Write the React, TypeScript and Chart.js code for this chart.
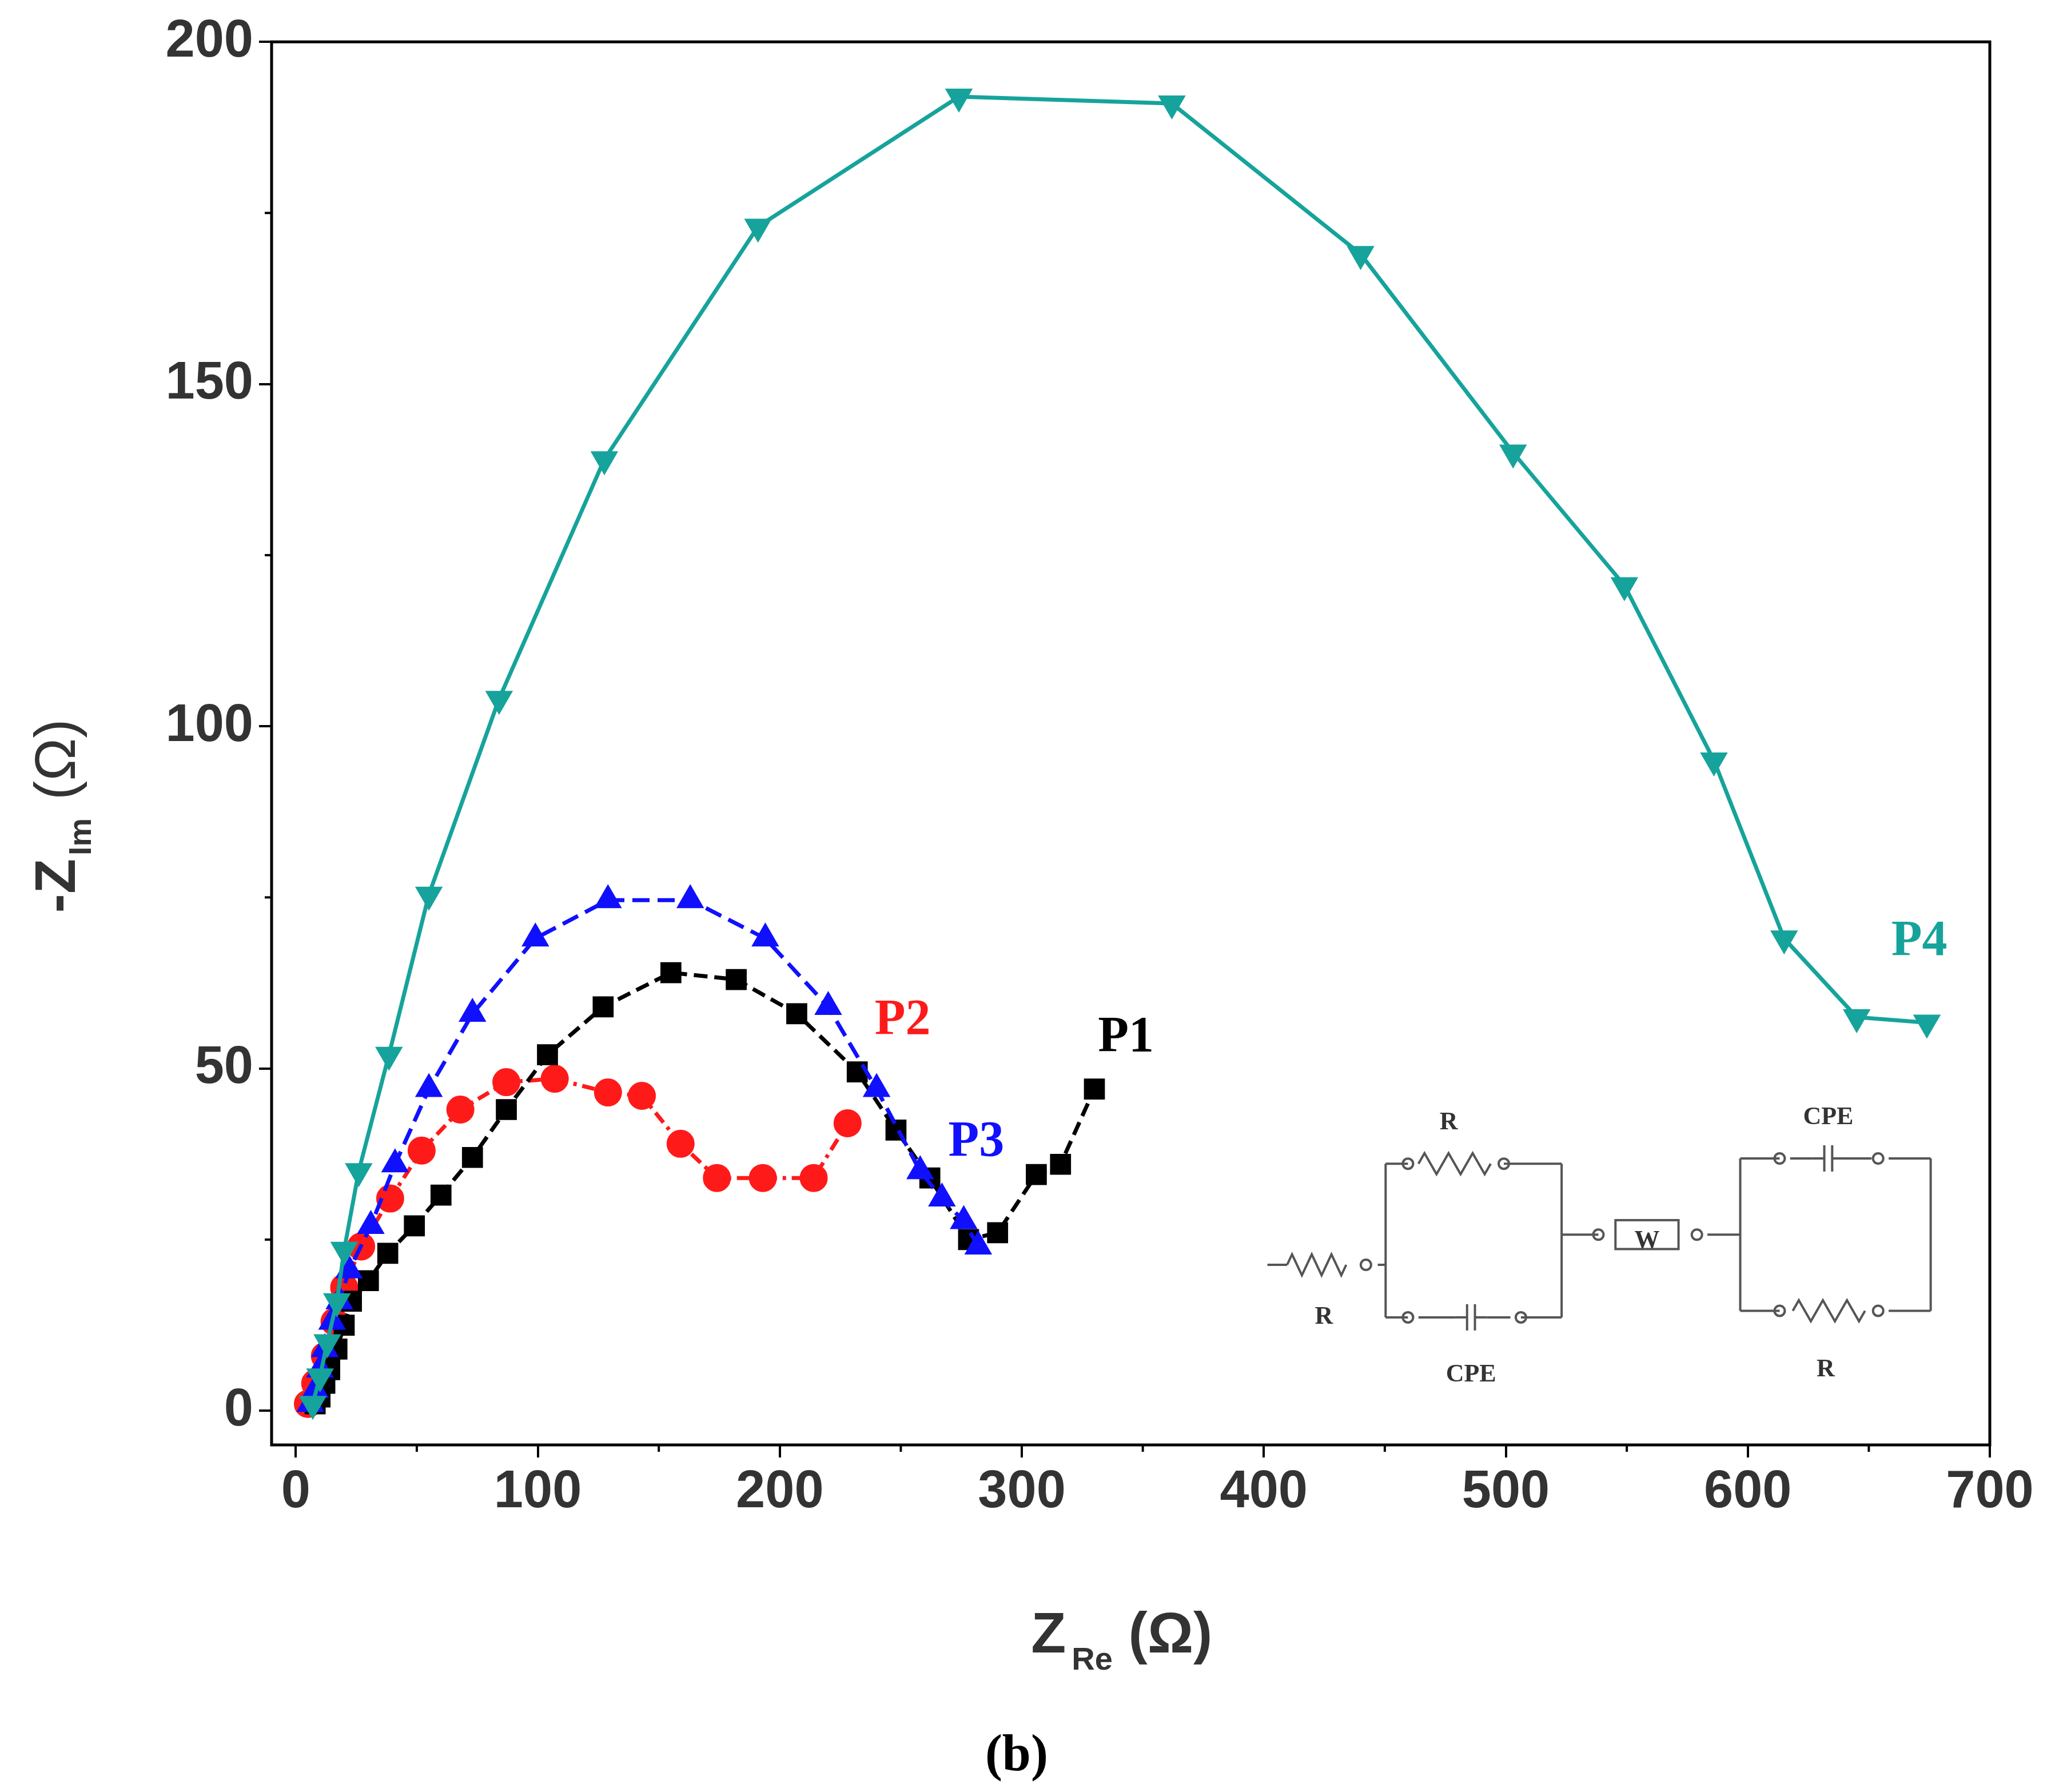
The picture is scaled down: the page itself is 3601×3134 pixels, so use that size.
import React, { useEffect, useRef } from "react";
import { Chart, registerables } from "chart.js";
Chart.register(...registerables);

const p1x = [8,10,12,14,17,20,23,30,38,49,60,73,87,104,127,155,182,207,232,248,262,278,290,306,316,330];
const p1y = [1,2,4,6,9,12.5,16,19,23,27,31.5,37,44,52,59,64,63,58,49.5,41,34,25,26,34.5,36,47];
const p2x = [5,8,12,16,20,27,39,52,68,87,107,129,143,159,174,193,214,228];
const p2y = [1,4,8,13,18,24,31,38,44,48,48.5,46.5,46,39,34,34,34,42];
const p3x = [6,8,10,12,15,18,22,31,41,55,73,99,129,163,194,220,240,258,267,276,282];
const p3y = [1,3,6,9,13,16,20.5,27,36,47,58,69,74.6,74.6,69,59,47,35,31,27.7,24];
const p4x = [7,10,13,17,20,26,38.5,55,84,127.5,191,274,362,440,503,549,586,615,645,674];
const p4y = [1,5,10,16,23.5,35,52,75.4,104,139,173,192,191,169,140,120.6,95,69,57.5,56.7];
const xTicks = [0,100,200,300,400,500,600,700];
const yTicks = [0,50,100,150,200];

const pts = (xs: number[], ys: number[]) => xs.map((x, i) => ({ x, y: ys[i] }));
const S = 2.297;
const FONT = '"Liberation Sans", Arial, sans-serif';

export default function App() {
  const ref = useRef<HTMLCanvasElement>(null);
  useEffect(() => {
    const deco = {
      id: "deco",
      afterDraw(c: any) {
        const ctx = c.ctx;
        const a = c.chartArea;
        const xs = c.scales.x, ys = c.scales.y;
        ctx.save();
        ctx.strokeStyle = "#000";
        ctx.lineWidth = 5;
        ctx.strokeRect(a.left, a.top, a.right - a.left, a.bottom - a.top);
        ctx.lineWidth = 4;
        for (let v = 50; v < 700; v += 100) {
          const px = xs.getPixelForValue(v);
          ctx.beginPath(); ctx.moveTo(px, a.bottom); ctx.lineTo(px, a.bottom + 12); ctx.stroke();
        }
        for (let v = 25; v < 200; v += 50) {
          const py = ys.getPixelForValue(v);
          ctx.beginPath(); ctx.moveTo(a.left, py); ctx.lineTo(a.left - 12, py); ctx.stroke();
        }
        const P = (x: number) => x * S - 8;
        ctx.fillStyle = "#333";
        ctx.font = `bold 100px ${FONT}`;
        ctx.textBaseline = "alphabetic";
        let x0 = P(785), yb = P(1258);
        ctx.fillText("Z", x0, yb);
        let w = ctx.measureText("Z").width;
        ctx.font = `bold 56px ${FONT}`;
        ctx.fillText("Re", x0 + w + 10, yb + 30);
        let w2 = ctx.measureText("Re").width;
        ctx.font = `bold 100px ${FONT}`;
        ctx.fillText(" (Ω)", x0 + w + w2 + 10, yb);
        ctx.save();
        ctx.translate(P(57), P(695));
        ctx.rotate(-Math.PI / 2);
        ctx.fillText("-Z", 0, 0);
        w = ctx.measureText("-Z").width;
        ctx.font = `bold 56px ${FONT}`;
        ctx.fillText("Im", w + 6, 28);
        w2 = ctx.measureText("Im").width;
        ctx.font = `100px ${FONT}`;
        ctx.fillText(" (Ω)", w + w2 + 10, 0);
        ctx.restore();
        ctx.font = `bold 88px "Liberation Serif", serif`;
        const lab = (t: string, col: string, x: number, y: number) => { ctx.fillStyle = col; ctx.fillText(t, P(x), P(y)); };
        lab("P1", "#000", 836, 800);
        lab("P2", "#ff1a1a", 666, 787);
        lab("P3", "#1010ff", 722, 880);
        lab("P4", "#16a39b", 1440, 727);
        ctx.fillStyle = "#000";
        ctx.font = `bold 90px "Liberation Serif", serif`;
        ctx.textAlign = "center";
        ctx.fillText("(b)", P(774), P(1348));
        ctx.textAlign = "left";
        ctx.strokeStyle = "#555"; ctx.lineWidth = 4; ctx.fillStyle = "#444";
        const L = (pts: number[][]) => { ctx.beginPath(); ctx.moveTo(P(pts[0][0]), P(pts[0][1])); for (const p of pts.slice(1)) ctx.lineTo(P(p[0]), P(p[1])); ctx.stroke(); };
        const R = (x1: number, x2: number, y: number) => {
          const n = 6, d = (x2 - x1) / n; const arr = [[x1, y]];
          for (let i = 0; i < n; i++) arr.push([x1 + d * (i + 0.5), y + (i % 2 ? 8 : -8)]);
          arr.push([x2, y]); L(arr);
        };
        const dot = (x: number, y: number) => { ctx.beginPath(); ctx.arc(P(x), P(y), 9, 0, 7); ctx.stroke(); };
        const C = (x: number, y: number) => { L([[x - 12, y], [x - 3, y]]); L([[x - 3, y - 10], [x - 3, y + 10]]); L([[x + 3, y - 10], [x + 3, y + 10]]); L([[x + 3, y], [x + 12, y]]); };
        L([[965, 963], [980, 963]]); R(980, 1025, 963); dot(1040, 963); L([[1049, 963], [1055, 963]]);
        L([[1055, 886], [1055, 1003]]); L([[1055, 886], [1072, 886]]); dot(1072, 886); R(1080, 1135, 886); dot(1145, 886); L([[1145, 886], [1189, 886]]);
        L([[1055, 1003], [1072, 1003]]); dot(1072, 1003); L([[1080, 1003], [1108, 1003]]); C(1120, 1003); L([[1132, 1003], [1150, 1003]]); dot(1158, 1003); L([[1158, 1003], [1189, 1003]]);
        L([[1189, 886], [1189, 1003]]); L([[1189, 940], [1217, 940]]); dot(1217, 940); ctx.strokeRect(P(1230), P(929), 48 * S, 22 * S); dot(1292, 940); L([[1300, 940], [1325, 940]]);
        L([[1325, 882], [1325, 998]]); L([[1325, 882], [1355, 882]]); dot(1355, 882); L([[1363, 882], [1380, 882]]); C(1392, 882); L([[1404, 882], [1425, 882]]); dot(1430, 882); L([[1438, 882], [1470, 882]]);
        L([[1325, 998], [1355, 998]]); dot(1355, 998); R(1365, 1420, 998); dot(1430, 998); L([[1438, 998], [1470, 998]]); L([[1470, 882], [1470, 998]]);
        ctx.fillStyle = "#333"; ctx.font = `bold 44px "Liberation Serif", serif`; ctx.textAlign = "center";
        ctx.fillText("W", P(1254), P(950)); ctx.fillText("R", P(1103), P(860)); ctx.fillText("R", P(1008), P(1008));
        ctx.fillText("CPE", P(1120), P(1052)); ctx.fillText("CPE", P(1392), P(856)); ctx.fillText("R", P(1390), P(1048));
        ctx.restore();
      },
    };
    const ds = (label: string, xs: number[], ys: number[], col: string, style: string, dash: number[]) => ({
      label, data: pts(xs, ys), borderColor: col, backgroundColor: col, pointStyle: style,
      pointRadius: 21, pointRotation: label === "P4" ? 180 : 0,
      borderWidth: 7, borderDash: dash, showLine: true, tension: 0,
    });
    const chart = new Chart(ref.current!, {
      type: "scatter",
      data: {
        datasets: [
          ds("P4", p4x, p4y, "#16a39b", "triangle", []),
          ds("P3", p3x, p3y, "#1010ff", "triangle", [30, 14]),
          ds("P1", p1x, p1y, "#000000", "rect", [24, 12]),
          ds("P2", p2x, p2y, "#ff1a1a", "circle", [22, 10, 6, 10]),
        ],
      },
      plugins: [deco],
      options: {
        animation: false, responsive: false,
        layout: { padding: { top: 65, right: 113, left: 0, bottom: 0 } },
        plugins: { legend: { display: false }, tooltip: { enabled: false } },
        scales: {
          x: {
            type: "linear", min: -10, max: 700,
            afterBuildTicks: (s: any) => { s.ticks = xTicks.map((v) => ({ value: v })); },
            afterFit: (s: any) => { s.height = 599; },
            grid: { drawOnChartArea: false, tickLength: 22, lineWidth: 4, color: "#000" },
            border: { display: false },
            ticks: { color: "#333", font: { family: FONT, weight: "bold", size: 92 }, padding: 6, maxRotation: 0 },
          },
          y: {
            min: -5, max: 200,
            afterBuildTicks: (s: any) => { s.ticks = yTicks.map((v) => ({ value: v })); },
            afterFit: (s: any) => { s.width = 467; },
            grid: { drawOnChartArea: false, tickLength: 22, lineWidth: 4, color: "#000" },
            border: { display: false },
            ticks: { color: "#333", font: { family: FONT, weight: "bold", size: 92 }, padding: 10 },
          },
        },
      },
    } as any);
    return () => chart.destroy();
  }, []);
  return <canvas ref={ref} width={3585} height={3118} style={{ display: "block", width: 3585, height: 3118 }} />;
}
